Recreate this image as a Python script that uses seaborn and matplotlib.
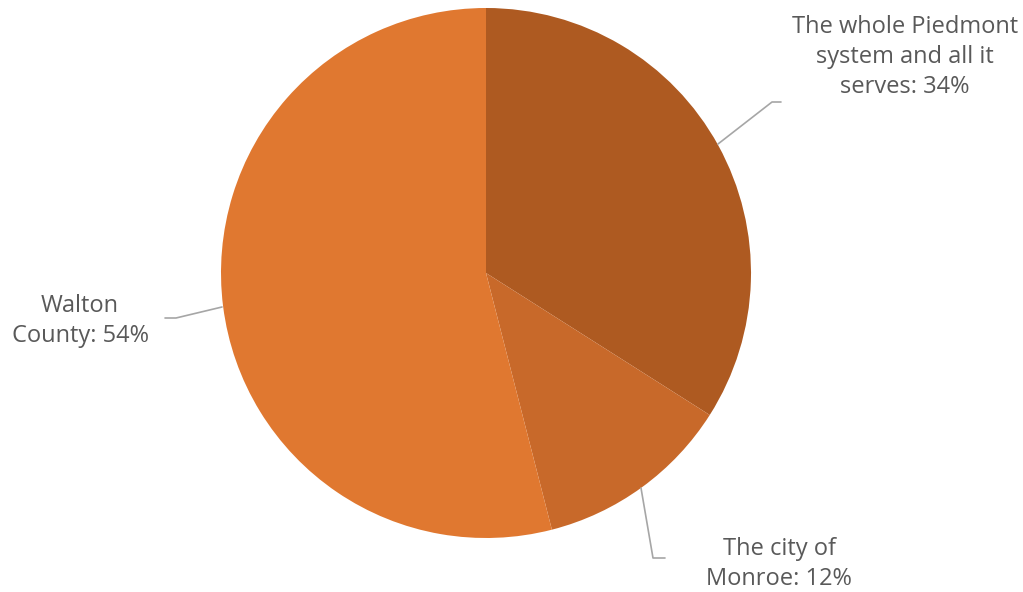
import matplotlib
matplotlib.use("Agg")
import matplotlib.pyplot as plt
import seaborn as sns

labels = ["The whole Piedmont\nsystem and all it\nserves: 34%", "The city of\nMonroe: 12%", "Walton\nCounty: 54%"]
values = [34, 12, 54]
colors = ["#AE5A21", "#C8692A", "#E07830"]

sns.set_theme(style="white")
plt.rcParams['font.family'] = ['Open Sans', 'DejaVu Sans']

W, H = 1023, 592
fig = plt.figure(figsize=(W/100, H/100), dpi=100)
cx, cy, R = 486, 273, 265
ax = fig.add_axes([(cx-R)/W, (H-cy-R)/H, 2*R/W, 2*R/H])
ax.pie(values, colors=colors, startangle=90, counterclock=False, radius=1,
       wedgeprops=dict(linewidth=0))
ax.set_xlim(-1, 1); ax.set_ylim(-1, 1)
ax.set_aspect('equal')
ax.axis('off')

def d(px, py):
    return ((px-cx)/R, (cy-py)/R)

lines = [
    [(718, 144), (772, 102), (781, 102)],
    [(641, 488), (653, 558), (665, 558)],
    [(222, 307), (176, 318), (165, 318)],
]
for pts in lines:
    xs, ys = zip(*[d(*p) for p in pts])
    ax.plot(xs, ys, color="#A6A6A6", lw=1.2, clip_on=False)

text_pos = [(905, 57), (779, 564), (80, 321)]
for lab, (px, py) in zip(labels, text_pos):
    x, y = d(px, py)
    ax.text(x, y, lab, ha="center", va="center", fontsize=17, color="#595959",
            linespacing=1.33, clip_on=False)

fig.savefig("out.png", dpi=100)
